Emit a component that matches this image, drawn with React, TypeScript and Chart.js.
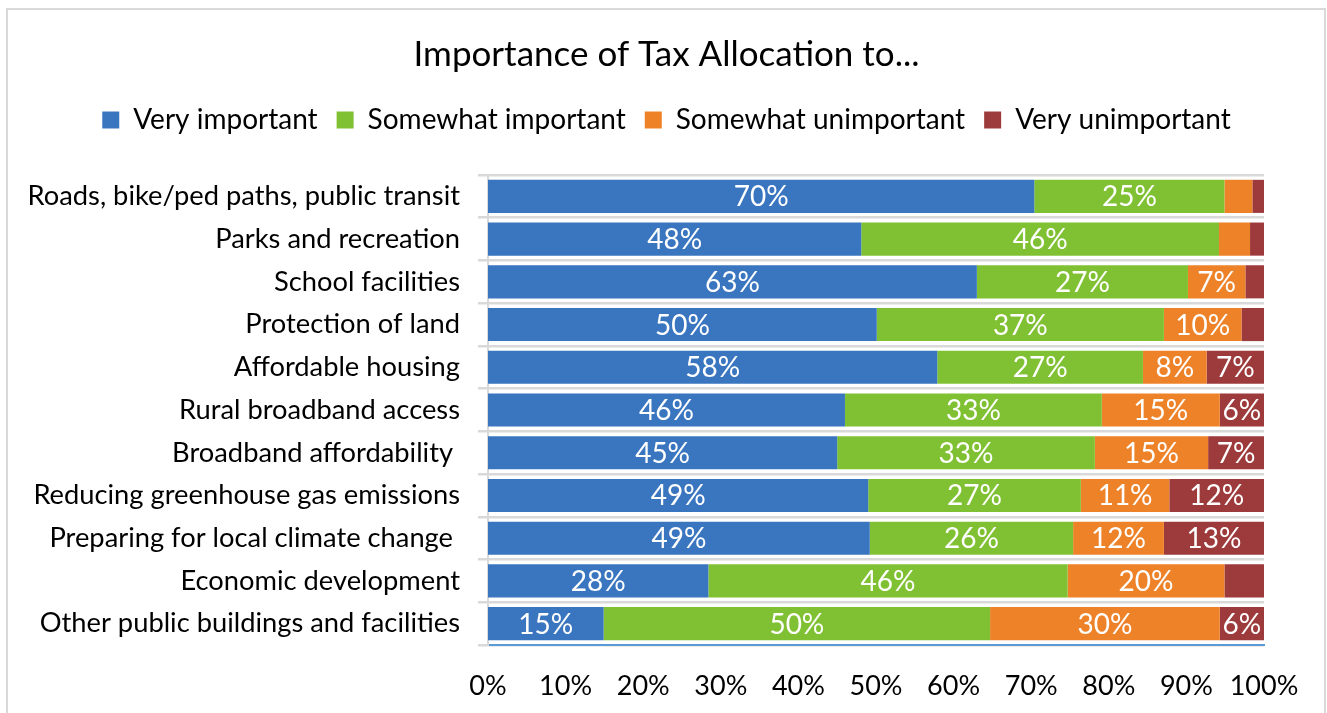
import React, { useEffect, useRef } from "react";
import { Chart, registerables } from "chart.js";

Chart.register(...registerables);

const categories = [
  "Roads, bike/ped paths, public transit",
  "Parks and recreation",
  "School facilities",
  "Protection of land",
  "Affordable housing",
  "Rural broadband access",
  "Broadband affordability ",
  "Reducing greenhouse gas emissions",
  "Preparing for local climate change ",
  "Economic development",
  "Other public buildings and facilities",
];
const seriesNames = ["Very important", "Somewhat important", "Somewhat unimportant", "Very unimportant"];
const veryImportant = [70.4, 48.1, 63.0, 50.1, 57.9, 46.0, 45.0, 49.0, 49.2, 28.4, 14.9];
const somewhatImportant = [24.5, 46.1, 27.2, 37.0, 26.5, 33.1, 33.2, 27.4, 26.2, 46.3, 49.8];
const somewhatUnimportant = [3.6, 4.0, 7.4, 10.0, 8.2, 15.2, 14.6, 11.4, 11.7, 20.2, 29.6];
const veryUnimportant = [1.5, 1.8, 2.4, 2.9, 7.4, 5.7, 7.2, 12.2, 12.9, 5.1, 5.7];
const xTicks = [0, 10, 20, 30, 40, 50, 60, 70, 80, 90, 100];
const colors = ["#3A76BF", "#80C134", "#EE8229", "#9D3A3B"];
const FONT = "Lato, 'Open Sans', sans-serif";

const labelPlugin = {
  id: "segmentLabels",
  afterDatasetsDraw(chart: any) {
    const ctx = chart.ctx;
    ctx.save();
    ctx.font = `28px ${FONT}`;
    ctx.fillStyle = "#ffffff";
    ctx.textAlign = "center";
    ctx.textBaseline = "middle";
    chart.data.datasets.forEach((ds: any, di: number) => {
      const meta = chart.getDatasetMeta(di);
      meta.data.forEach((el: any, i: number) => {
        const v = ds.data[i];
        if (v < 5.5) return;
        const x = (el.x + el.base) / 2;
        ctx.fillText(Math.round(v) + "%", x, el.y + 1);
      });
    });
    ctx.restore();
  },
};

export default function App() {
  const ref = useRef<HTMLCanvasElement>(null);
  useEffect(() => {
    const seriesData = [veryImportant, somewhatImportant, somewhatUnimportant, veryUnimportant];
    const chart = new Chart(ref.current!, {
      type: "bar",
      data: {
        labels: categories,
        datasets: seriesNames.map((n, i) => ({
          label: n,
          data: seriesData[i],
          backgroundColor: colors[i],
          borderWidth: 0,
          xAxisID: "x",
          yAxisID: "y",
          barPercentage: 0.775,
          categoryPercentage: 1,
        })),
      },
      options: {
        indexAxis: "y",
        animation: false,
        responsive: false,
        maintainAspectRatio: false,
        layout: { padding: { left: 0, right: -6, top: 0, bottom: 0 } },
        plugins: {
          tooltip: { enabled: false },
          title: {
            display: true,
            text: "Importance of Tax Allocation to...",
            color: "#000000",
            font: { family: FONT, size: 35, weight: "normal" },
            padding: { top: 34, bottom: 11 },
          },
          legend: {
            display: true,
            position: "top",
            labels: {
              color: "#000000",
              font: { family: FONT, size: 28 },
              boxWidth: 17,
              boxHeight: 17,
              padding: 19,
            },
          },
        },
        scales: {
          x: {
            type: "linear",
            position: "bottom",
            stacked: true,
            min: 0,
            max: 100,
            afterBuildTicks: (s: any) => {
              s.ticks = xTicks.map((v) => ({ value: v }));
            },
            ticks: {
              color: "#000000",
              font: { family: FONT, size: 27 },
              padding: 25,
              callback: (v: any) => v + "%",
            },
            grid: { display: false, drawTicks: false },
            border: { display: true, color: "#5B9BD5", width: 2 },
            afterFit: (s: any) => {
              s.height = 68;
            },
          },
          x2: {
            type: "linear",
            position: "top",
            display: true,
            grid: { display: false, drawTicks: false },
            ticks: { display: false },
            border: { display: false },
            afterFit: (s: any) => {
              s.height = 31;
            },
          },
          y: {
            stacked: true,
            ticks: {
              color: "#000000",
              font: { family: FONT, size: 27.3 },
              padding: 18,
            },
            grid: {
              display: true,
              color: "#D9D9D9",
              lineWidth: 2.5,
              tickLength: 10,
              offset: true,
            },
            border: { display: true, color: "#D9D9D9", width: 2 },
            afterFit: (s: any) => {
              s.width = 488;
            },
          },
          y2: {
            type: "linear",
            position: "right",
            display: true,
            grid: { display: false, drawTicks: false },
            ticks: { display: false },
            border: { display: false },
            afterFit: (s: any) => {
              s.width = 69;
            },
          },
        },
      } as any,
      plugins: [labelPlugin],
    });
    return () => chart.destroy();
  }, []);
  return (
    <>
      <div
        style={{
          position: "fixed",
          left: 6,
          top: 8,
          width: 1320,
          height: 720,
          border: "2px solid #D9D9D9",
          boxSizing: "border-box",
          pointerEvents: "none",
        }}
      />
      <canvas
        ref={ref}
        width={1327}
        height={713}
        style={{ position: "fixed", left: 0, top: 0, width: 1327, height: 713 }}
      />
    </>
  );
}
